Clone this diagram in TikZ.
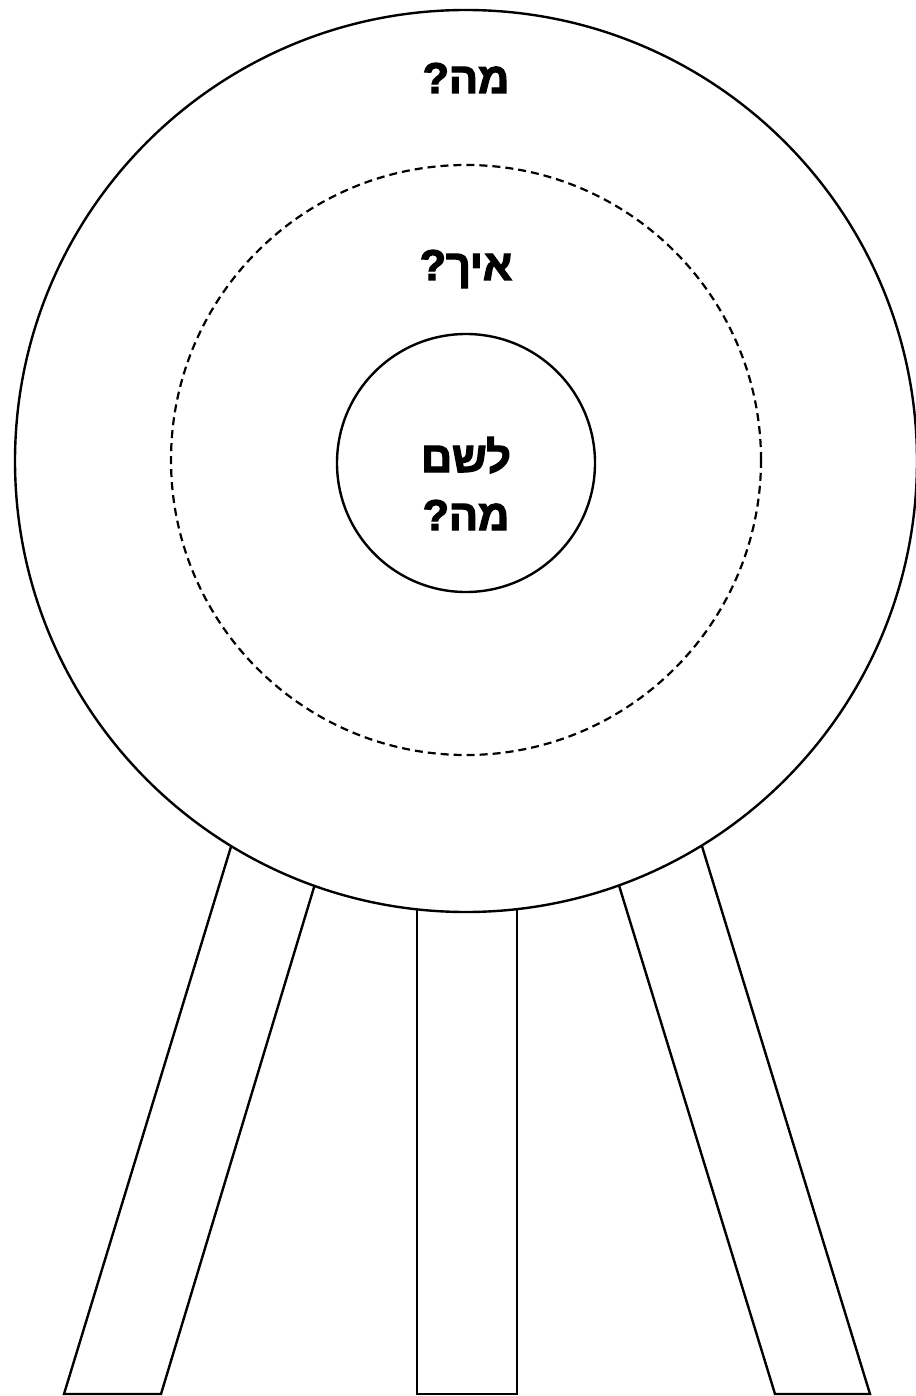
\documentclass[tikz,border=0pt]{standalone}
\usepackage{fontspec}
\TeXXeTstate=1
\newfontfamily\hebbold[Script=Hebrew, FakeBold=3]{Liberation Sans Bold}
\tikzset{
  ring/.style={draw=black, line width=2.4pt},
  dashring/.style={draw=black, line width=2.2pt, dash pattern=on 8pt off 5pt},
  leg/.style={draw=black, line width=2.4pt, fill=white, line join=miter},
  lbl/.style={font=\hebbold\fontsize{43}{58}\selectfont, align=center, inner sep=0pt, anchor=base}
}
\begin{document}
\begin{tikzpicture}[x=1pt,y=-1pt]
\useasboundingbox[fill=white] (0,0) rectangle (915,1396);
% legs
\draw[leg] (64,1394) -- (255,768) -- (350,768) -- (161,1394) -- cycle;
\draw[leg] (417,1394) -- (417,800) -- (517,800) -- (517,1394) -- cycle;
\draw[leg] (870,1394) -- (678,768) -- (583,768) -- (775,1394) -- cycle;
% circles
\node[ring, fill=white, circle, minimum size=902pt, inner sep=0pt] (outer) at (466,461) {};
\node[dashring, circle, minimum size=590pt, inner sep=0pt] (mid) at (466,460) {};
\node[ring, circle, minimum size=258pt, inner sep=0pt] (inner) at (466,463) {};
% labels
\node[lbl] (t1) at (466,93) {\beginR מה?\endR};
\node[lbl] (t2) at (466,280) {\beginR איך?\endR};
\node[lbl] (t3) at (466,472) {\beginR לשם\endR};
\node[lbl] (t4) at (466,530) {\beginR מה?\endR};
\end{tikzpicture}
\end{document}
